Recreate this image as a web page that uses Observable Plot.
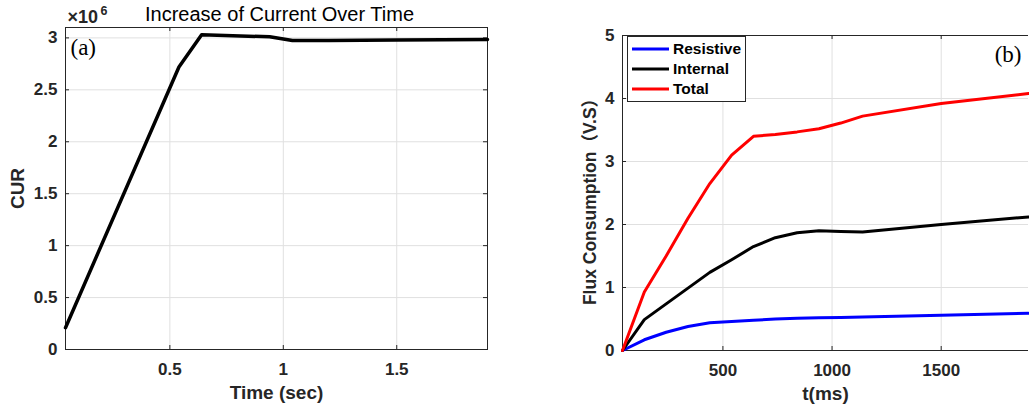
<!DOCTYPE html>
<html><head><meta charset="utf-8">
<script src="https://cdn.jsdelivr.net/npm/d3@7"></script>
<script src="https://cdn.jsdelivr.net/npm/@observablehq/plot@0.6"></script>
<style>
html,body{margin:0;padding:0;background:#fff;}
#wrap{position:relative;width:1029px;height:410px;overflow:hidden;background:#fff;font-family:"Liberation Sans",Arial,sans-serif;}
.panel{position:absolute;top:0;}
#legend{position:absolute;left:627px;top:36px;width:117px;height:62px;border:1px solid #262626;background:#fff;padding-top:2px;}
.lrow{height:20px;display:flex;align-items:center;font-weight:bold;font-size:15.5px;color:#000;}
.lrow svg{margin-left:4px;margin-right:4px;}
</style></head><body>
<div id="wrap">
  <div id="pa" class="panel" style="left:0px"></div>
  <div id="pb" class="panel" style="left:560px"></div>
  <div id="legend"></div>
</div>
<script>
// ---- Panel (a): current vs time (values in units of 1e6) ----
const curTime  = [0.04, 0.54, 0.64, 0.94, 1.04, 1.2, 1.5, 1.9];
const curValue = [0.21, 2.72, 3.03, 3.01, 2.975, 2.975, 2.98, 2.985];
const aXTicks = [0.5, 1, 1.5];
const aYTicks = [0, 0.5, 1, 1.5, 2, 2.5, 3];

// ---- Panel (b): flux consumption vs t(ms) ----
const tMs       = [40, 140, 240, 340, 440, 540, 640, 740, 840, 940, 1040, 1140, 1500, 1900];
const resistive = [0, 0.17, 0.29, 0.38, 0.44, 0.46, 0.48, 0.50, 0.51, 0.52, 0.525, 0.53, 0.56, 0.59];
const internal  = [0, 0.49, 0.74, 0.99, 1.24, 1.44, 1.65, 1.79, 1.87, 1.90, 1.89, 1.88, 2.0, 2.12];
const total     = [0, 0.93, 1.5, 2.1, 2.65, 3.1, 3.4, 3.43, 3.47, 3.52, 3.61, 3.72, 3.92, 4.08];
const seriesNames  = ["Resistive", "Internal", "Total"];
const seriesColors = ["#0000ff", "#000000", "#ff0000"];
const bXTicks = [500, 1000, 1500];
const bYTicks = [0, 1, 2, 3, 4, 5];

const axisColor = "#262626";
const gridColor = "#e0e0e0";
const font = "'Liberation Sans', Arial, 'Noto Sans CJK SC', sans-serif";

// Panel A
const aData = curTime.map((t, i) => ({t, v: curValue[i]}));
const aW = 500, aH = 410, aML = 65, aMR = 13, aMT = 27, aMB = 61;
const aInW = aW - aML - aMR, aInH = aH - aMT - aMB;
const plotA = Plot.plot({
  width: aW, height: aH,
  marginLeft: aML, marginRight: aMR, marginTop: aMT, marginBottom: aMB,
  style: {fontFamily: font, background: "transparent", overflow: "visible"},
  x: {domain: [0.04, 1.9]},
  y: {domain: [0, 3.1]},
  marks: [
    Plot.gridX(aXTicks, {stroke: gridColor, strokeOpacity: 1}),
    Plot.gridY(aYTicks, {stroke: gridColor, strokeOpacity: 1}),
    Plot.frame({stroke: axisColor}),
    Plot.ruleX(aXTicks, {stroke: axisColor, insetTop: aInH - 4}),
    Plot.ruleX(aXTicks, {stroke: axisColor, insetBottom: aInH - 4}),
    Plot.ruleY(aYTicks, {stroke: axisColor, insetRight: aInW - 4}),
    Plot.ruleY(aYTicks, {stroke: axisColor, insetLeft: aInW - 4}),
    Plot.line(aData, {x: "t", y: "v", stroke: "#000", strokeWidth: 3.5}),
    Plot.axisX(aXTicks, {tickSize: 0, tickPadding: 13, fontSize: 17, fontWeight: "bold", fill: axisColor, label: null, tickFormat: d => String(d)}),
    Plot.axisY(aYTicks, {tickSize: 0, tickPadding: 8, fontSize: 17, fontWeight: "bold", fill: axisColor, label: null, tickFormat: d => String(d)}),
    Plot.text(["Time (sec)"], {text: d => d, frameAnchor: "bottom", textAnchor: "middle", lineAnchor: "middle", dy: 43, fontSize: 19, fontWeight: "bold", fill: axisColor}),
    Plot.text(["CUR"], {text: d => d, frameAnchor: "left", textAnchor: "middle", lineAnchor: "middle", rotate: -90, dx: -48, fontSize: 19, fontWeight: "bold", fill: axisColor}),
    Plot.text(["Increase of Current Over Time"], {text: d => d, frameAnchor: "top", textAnchor: "middle", lineAnchor: "middle", dx: 3, dy: -13, fontSize: 20, fill: "#000"}),
    Plot.text(["×10"], {text: d => d, frameAnchor: "top-left", textAnchor: "start", lineAnchor: "middle", dx: 2, dy: -10.5, fontSize: 18, fontWeight: "bold", fill: axisColor}),
    Plot.text(["6"], {text: d => d, frameAnchor: "top-left", textAnchor: "start", lineAnchor: "middle", dx: 35, dy: -17, fontSize: 12.5, fontWeight: "bold", fill: axisColor}),
    Plot.text(["(a)"], {text: d => d, frameAnchor: "top-left", textAnchor: "start", lineAnchor: "middle", dx: 5, dy: 20, fontSize: 23, fontFamily: "'Liberation Serif', 'Times New Roman', serif", fill: "#000"})
  ]
});
document.getElementById("pa").appendChild(plotA);

// Panel B
const bData = [];
tMs.forEach((t, i) => {
  bData.push({t, v: resistive[i], s: seriesNames[0]});
  bData.push({t, v: internal[i], s: seriesNames[1]});
  bData.push({t, v: total[i], s: seriesNames[2]});
});
const bW = 469, bH = 410, bML = 62, bMR = 1, bMT = 35, bMB = 60;
const bInW = bW - bML - bMR, bInH = bH - bMT - bMB;
const plotB = Plot.plot({
  width: bW, height: bH,
  marginLeft: bML, marginRight: bMR, marginTop: bMT, marginBottom: bMB,
  style: {fontFamily: font, background: "transparent", overflow: "visible"},
  x: {domain: [40, 1900]},
  y: {domain: [0, 5]},
  color: {domain: seriesNames, range: seriesColors},
  marks: [
    Plot.gridX(bXTicks, {stroke: gridColor, strokeOpacity: 1}),
    Plot.gridY(bYTicks, {stroke: gridColor, strokeOpacity: 1}),
    Plot.ruleY([0, 5], {stroke: axisColor}),
    Plot.ruleX([40], {stroke: axisColor}),
    Plot.ruleX(bXTicks, {stroke: axisColor, insetTop: bInH - 4}),
    Plot.ruleX(bXTicks, {stroke: axisColor, insetBottom: bInH - 4}),
    Plot.ruleY(bYTicks, {stroke: axisColor, insetRight: bInW - 4}),
    Plot.line(bData, {x: "t", y: "v", z: "s", stroke: "s", strokeWidth: 3}),
    Plot.axisX(bXTicks, {tickSize: 0, tickPadding: 13, fontSize: 17, fontWeight: "bold", fill: axisColor, label: null, tickFormat: d => String(d)}),
    Plot.axisY(bYTicks, {tickSize: 0, tickPadding: 8, fontSize: 17, fontWeight: "bold", fill: axisColor, label: null, tickFormat: d => String(d)}),
    Plot.text(["t(ms)"], {text: d => d, frameAnchor: "bottom", textAnchor: "middle", lineAnchor: "middle", dy: 43, fontSize: 19, fontWeight: "bold", fill: axisColor}),
    Plot.text(["Flux Consumption（V.S）"], {text: d => d, frameAnchor: "left", textAnchor: "middle", lineAnchor: "middle", rotate: -90, dx: -32, dy: 4.5, fontSize: 17.5, fontWeight: "bold", fill: axisColor}),
    Plot.text(["(b)"], {text: d => d, frameAnchor: "top-right", textAnchor: "end", lineAnchor: "middle", dx: -7, dy: 19, fontSize: 23, fontFamily: "'Liberation Serif', 'Times New Roman', serif", fill: "#000"})
  ]
});
document.getElementById("pb").appendChild(plotB);

// Legend
const leg = document.getElementById("legend");
seriesNames.forEach((name, i) => {
  const row = document.createElement("div");
  row.className = "lrow";
  row.innerHTML = `<svg width="37" height="6"><line x1="0" y1="3" x2="37" y2="3" stroke="${seriesColors[i]}" stroke-width="3"/></svg><span>${name}</span>`;
  leg.appendChild(row);
});
</script>
</body></html>
